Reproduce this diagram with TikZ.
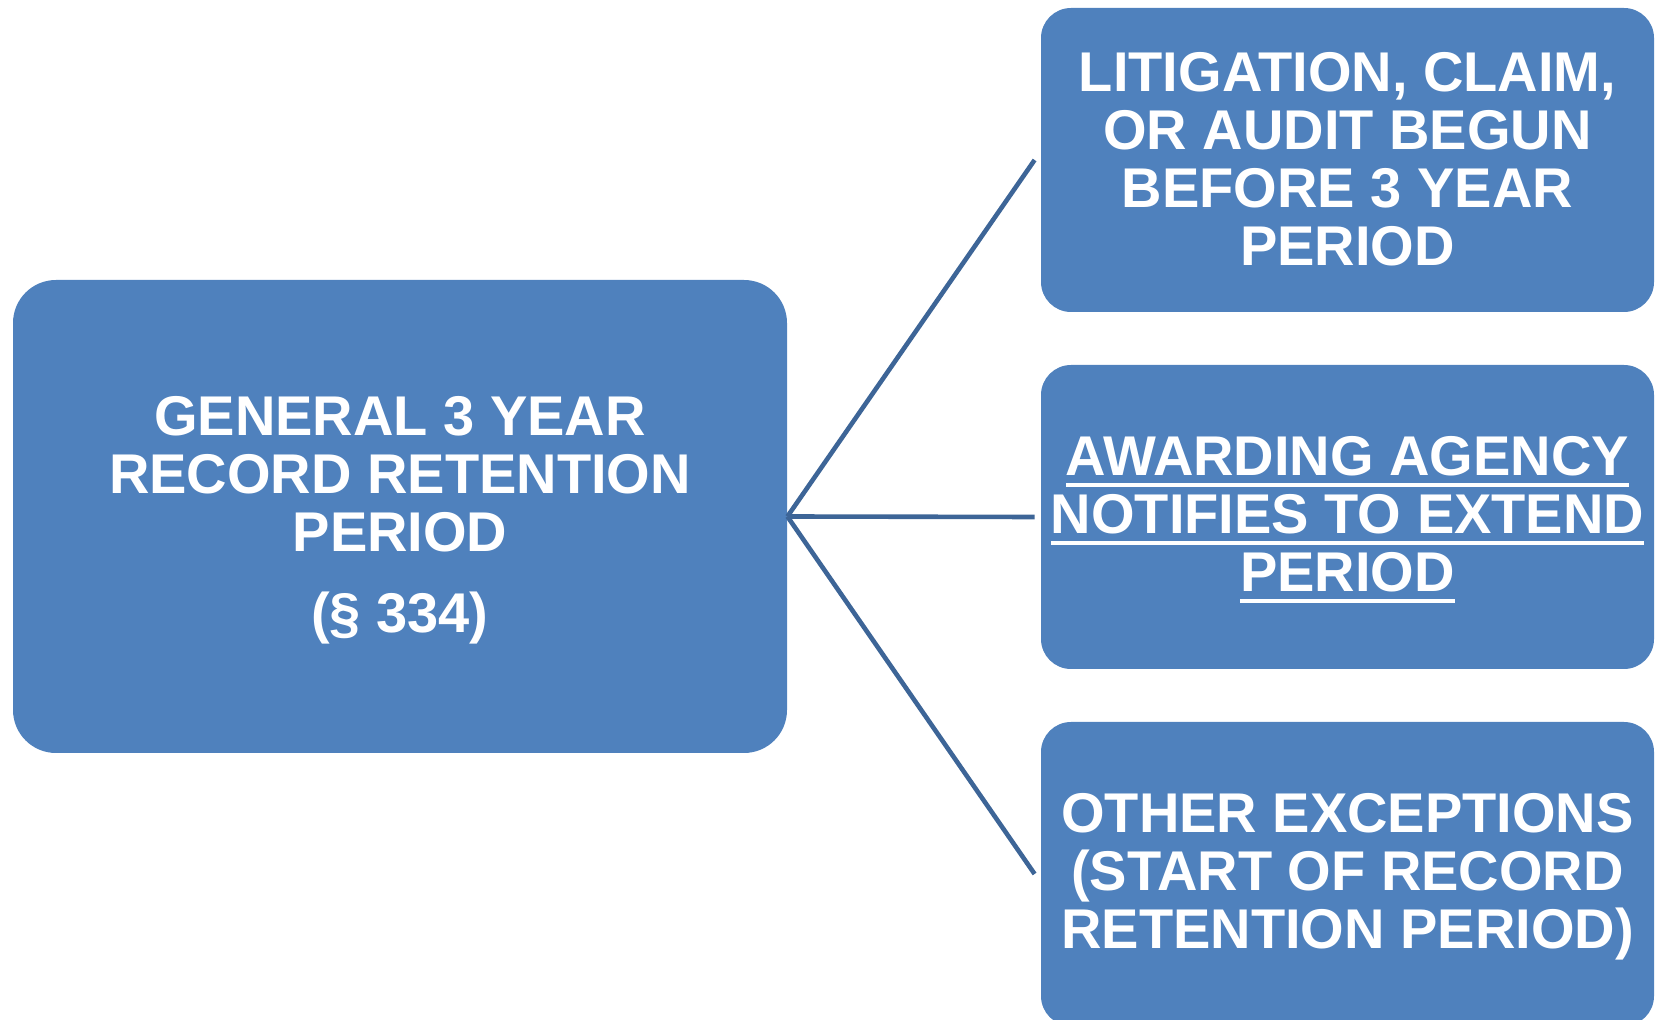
\documentclass[tikz,border=0pt]{standalone}
\usepackage{fontspec}
\setmainfont{Liberation Sans}
\newcommand\ulword[1]{\setbox0\hbox{#1}\rlap{\rule[-6pt]{\wd0}{2.2pt}}\box0}
\definecolor{boxblue}{HTML}{4F81BD}
\definecolor{linkblue}{HTML}{3D6597}
\begin{document}
\begin{tikzpicture}[x=0.5pt,y=-0.5pt,
  bigbox/.style={fill=boxblue, rounded corners=21.5pt, inner sep=0pt,
    minimum width=387pt, minimum height=236.5pt},
  sidebox/.style={fill=boxblue, rounded corners=15pt, inner sep=0pt,
    minimum width=306.5pt, minimum height=152pt},
  boxtext/.style={inner sep=0pt, text=white, align=center,
    font=\fontsize{28pt}{29pt}\selectfont\bfseries},
  link/.style={draw=linkblue, line width=2.3pt}]
\useasboundingbox (0,0) rectangle (1655,1020);
\clip (0,0) rectangle (1655,1020);

% boxes
\node[bigbox] (general) at (400,516.5) {};
\node[sidebox] (litigation) at (1347.5,160) {};
\node[sidebox] (awarding) at (1347.5,517) {};
\node[sidebox] (other) at (1347.5,874) {};

% box texts
\node[boxtext, yshift=-2pt] (generaltext) at (general.center)
  {GENERAL 3 YEAR\\RECORD RETENTION\\PERIOD\\[11.5pt](\S\ 334)};
\node[boxtext, yshift=0.5pt] (litigationtext) at (litigation.center)
  {LITIGATION, CLAIM,\\OR AUDIT BEGUN\\BEFORE 3 YEAR\\PERIOD};
\node[boxtext, yshift=-1.3pt] (awardingtext) at (awarding.center)
  {\ulword{AWARDING AGENCY}\\\ulword{NOTIFIES TO EXTEND}\\\ulword{PERIOD}};
\node[boxtext, yshift=-1.5pt] (othertext) at (other.center)
  {OTHER EXCEPTIONS\\(START OF RECORD\\RETENTION PERIOD)};

% connectors
\draw[link] (general.east) -- ([xshift=-3pt]litigation.west);
\draw[link] (general.east) -- ([xshift=-3pt]awarding.west);
\draw[link] (general.east) -- ([xshift=-3pt]other.west);
\end{tikzpicture}
\end{document}
